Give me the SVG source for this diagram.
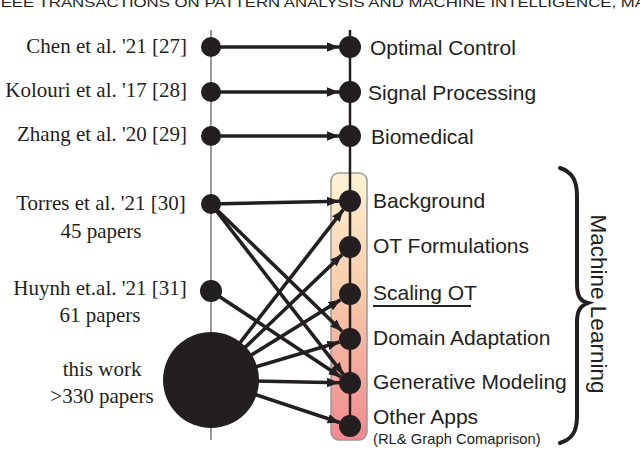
<svg xmlns="http://www.w3.org/2000/svg" width="640" height="476" viewBox="0 0 640 476">
<defs>
<linearGradient id="hl" x1="0" y1="0" x2="0" y2="1">
<stop offset="0" stop-color="#fcf3d4"/>
<stop offset="0.45" stop-color="#f9cbaa"/>
<stop offset="1" stop-color="#f08890"/>
</linearGradient>
<marker id="ah" markerUnits="userSpaceOnUse" markerWidth="12" markerHeight="12" viewBox="0 0 10 10" refX="10" refY="5" orient="auto">
<path d="M0,1 L10,5 L0,9 z" fill="#231f20"/>
</marker>
<style>
.l{font-family:"Liberation Serif","DejaVu Serif",serif;font-size:21px;fill:#231f20}
.r{font-family:"Liberation Sans","DejaVu Sans",sans-serif;font-size:21px;fill:#231f20}
.e{stroke:#231f20;stroke-width:3.6;fill:none;marker-end:url(#ah)}
.n{fill:#231f20}
</style>
</defs>
<rect width="640" height="476" fill="#fff"/>
<text x="-4" y="7" font-family="Liberation Sans, Arial, sans-serif" font-size="13" fill="#231f20" textLength="650" lengthAdjust="spacingAndGlyphs">IEEE TRANSACTIONS ON PATTERN ANALYSIS AND MACHINE INTELLIGENCE, MA</text>
<g id="axes">
<line x1="211" y1="30" x2="211" y2="440" stroke="#9a9a9a" stroke-width="2"/>
<rect x="331" y="173" width="36" height="267" rx="8" fill="url(#hl)" stroke="#999" stroke-width="1.5"/>
<line x1="350" y1="30" x2="350" y2="426" stroke="#231f20" stroke-width="2.5"/>
</g>
<g id="connectors">
<line class="e" x1="211" y1="47" x2="339" y2="47"/>
<line class="e" x1="211" y1="92" x2="339" y2="92"/>
<line class="e" x1="211" y1="136" x2="339" y2="136"/>
<line class="e" x1="211" y1="204" x2="339" y2="201.2"/>
<line class="e" x1="211" y1="204" x2="342.1" y2="331.3"/>
<line class="e" x1="211" y1="204" x2="343.3" y2="374.3"/>
<line class="e" x1="211" y1="291" x2="340.8" y2="376.9"/>
<line class="e" x1="211" y1="380" x2="343.3" y2="209.7"/>
<line class="e" x1="211" y1="380" x2="342.1" y2="254.6"/>
<line class="e" x1="211" y1="380" x2="340.6" y2="299.8"/>
<line class="e" x1="211" y1="380" x2="339.5" y2="342.1"/>
<line class="e" x1="211" y1="380" x2="339" y2="382.8"/>
<line class="e" x1="211" y1="380" x2="339.6" y2="422.5"/>
</g>
<g id="chen"><circle class="n" cx="211" cy="47" r="10"/><text class="l" x="187" y="53" text-anchor="end">Chen et al. '21 [27]</text></g>
<g id="kolouri"><circle class="n" cx="211" cy="92" r="10"/><text class="l" x="187" y="97" text-anchor="end">Kolouri et al. '17 [28]</text></g>
<g id="zhang"><circle class="n" cx="211" cy="136" r="10"/><text class="l" x="187" y="141" text-anchor="end">Zhang et al. '20 [29]</text></g>
<g id="torres"><circle class="n" cx="211" cy="204" r="10"/><text class="l" x="101" y="210" text-anchor="middle">Torres et al. '21 [30]</text><text class="l" x="101" y="238" text-anchor="middle">45 papers</text></g>
<g id="huynh"><circle class="n" cx="211" cy="291" r="11"/><text class="l" x="100" y="295" text-anchor="middle">Huynh et.al. '21 [31]</text><text class="l" x="100" y="322" text-anchor="middle">61 papers</text></g>
<g id="thiswork"><circle class="n" cx="211" cy="380" r="48"/><text class="l" x="102" y="376" text-anchor="middle">this work</text><text class="l" x="102" y="403" text-anchor="middle">&gt;330 papers</text></g>
<g id="optimal"><circle class="n" cx="350" cy="47" r="11"/><text class="r" x="370" y="55">Optimal Control</text></g>
<g id="signal"><circle class="n" cx="350" cy="92" r="11"/><text class="r" x="368" y="100">Signal Processing</text></g>
<g id="biomedical"><circle class="n" cx="350" cy="136" r="11"/><text class="r" x="371" y="144">Biomedical</text></g>
<g id="background"><circle class="n" cx="350" cy="201" r="11"/><text class="r" x="373" y="208">Background</text></g>
<g id="otform"><circle class="n" cx="350" cy="247" r="11"/><text class="r" x="373" y="253">OT Formulations</text></g>
<g id="scaling"><circle class="n" cx="350" cy="294" r="11"/><text class="r" x="373" y="300">Scaling OT</text><line x1="373" y1="306" x2="471" y2="306" stroke="#231f20" stroke-width="1.8"/></g>
<g id="domain"><circle class="n" cx="350" cy="339" r="11"/><text class="r" x="373" y="345">Domain Adaptation</text></g>
<g id="generative"><circle class="n" cx="350" cy="383" r="11"/><text class="r" x="373" y="389">Generative Modeling</text></g>
<g id="other"><circle class="n" cx="350" cy="426" r="11"/><text class="r" x="373" y="424">Other Apps</text><text class="r" x="373" y="444" style="font-size:14.8px">(RL&amp; Graph Comaprison)</text></g>
<g id="ml">
<path d="M560,168 C572,172 577,180 577,196 L577,284 C577,296 580,301 588,303 C580,306 577,311 577,322 L577,416 C577,432 572,439 560,443" fill="none" stroke="#231f20" stroke-width="4" stroke-linecap="round"/>
<text transform="translate(591,304) rotate(90)" text-anchor="middle" font-family="Liberation Sans, DejaVu Sans, sans-serif" font-size="22.5" fill="#231f20">Machine Learning</text>
</g>
</svg>
